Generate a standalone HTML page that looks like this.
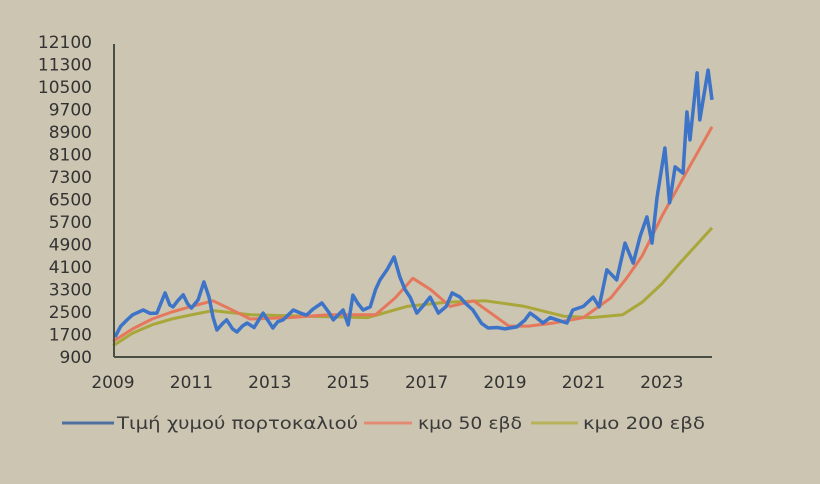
<!DOCTYPE html>
<html><head><meta charset="utf-8">
<style>
html,body{margin:0;padding:0;background:#ccc5b2;}
svg{display:block;font-family:"DejaVu Sans","Liberation Sans",sans-serif;}
</style></head>
<body>
<svg id="chart" width="820" height="484" viewBox="0 0 820 484">
<rect x="0" y="0" width="820" height="484" fill="#ccc5b2"/>
<g id="yticks"></g>
<g id="xticks"></g>
<g id="series"></g>
<line x1="114" y1="44" x2="114" y2="357" stroke="#4a4f45" stroke-width="2"/>
<line x1="114" y1="357" x2="712" y2="357" stroke="#4a4f45" stroke-width="2"/>
<g font-size="17" fill="#3a3a3a">
<g>
<line x1="62" y1="423" x2="114" y2="423" stroke="#4f6f9e" stroke-width="3"/>
<text x="117" y="429" textLength="241" lengthAdjust="spacingAndGlyphs">Τιμή χυμού πορτοκαλιού</text></g>
<g>
<line x1="364" y1="423" x2="412" y2="423" stroke="#e28a73" stroke-width="3"/>
<text x="418" y="429" textLength="104" lengthAdjust="spacingAndGlyphs">κμο 50 εβδ</text></g>
<g>
<line x1="531" y1="423" x2="578" y2="423" stroke="#b8b25a" stroke-width="3"/>
<text x="583" y="429" textLength="122" lengthAdjust="spacingAndGlyphs">κμο 200 εβδ</text></g>
</g>
</svg>
<script>
const yTicks=[900,1700,2500,3300,4100,4900,5700,6500,7300,8100,8900,9700,10500,11300,12100];
const xTicks=[2009,2011,2013,2015,2017,2019,2021,2023];
const priceYears=[2009.05,2009.2,2009.36,2009.5,2009.77,2009.95,2010.12,2010.33,2010.45,2010.53,2010.65,2010.79,2010.9,2011.0,2011.17,2011.32,2011.45,2011.55,2011.65,2011.8,2011.9,2012.05,2012.16,2012.3,2012.42,2012.6,2012.83,2013.0,2013.08,2013.2,2013.34,2013.6,2013.8,2013.94,2014.1,2014.33,2014.5,2014.62,2014.87,2015.0,2015.12,2015.25,2015.38,2015.56,2015.7,2015.81,2015.99,2016.17,2016.32,2016.45,2016.58,2016.75,2016.9,2017.09,2017.3,2017.5,2017.65,2017.85,2018.0,2018.18,2018.4,2018.57,2018.8,2019.0,2019.3,2019.5,2019.64,2019.8,2019.97,2020.15,2020.33,2020.58,2020.73,2021.0,2021.25,2021.4,2021.6,2021.85,2022.06,2022.27,2022.45,2022.62,2022.75,2022.88,2023.08,2023.2,2023.34,2023.54,2023.64,2023.72,2023.9,2023.97,2024.18,2024.28];
const priceValues=[1610,2000,2220,2400,2570,2450,2460,3180,2750,2680,2900,3110,2800,2640,2930,3570,3030,2320,1860,2100,2220,1900,1790,2000,2110,1950,2460,2100,1930,2150,2220,2570,2450,2390,2600,2820,2500,2220,2570,2040,3100,2800,2570,2680,3300,3640,4000,4460,3740,3300,3030,2460,2700,3030,2460,2700,3180,3030,2800,2570,2100,1930,1950,1900,1970,2200,2460,2300,2110,2300,2220,2110,2570,2700,3030,2680,4000,3640,4950,4240,5200,5880,4950,6590,8330,6380,7660,7440,9610,8620,11000,9330,11100,10040];
const ma50Years=[2009.0,2009.5,2010.0,2010.5,2011.0,2011.55,2012.0,2012.5,2013.5,2014.5,2015.7,2016.2,2016.65,2017.1,2017.6,2018.2,2018.7,2019.1,2019.6,2020.2,2021.0,2021.7,2022.1,2022.5,2023.0,2023.6,2024.28];
const ma50Values=[1450,1900,2250,2500,2700,2900,2600,2250,2300,2400,2400,3000,3700,3300,2700,2900,2400,2000,2000,2100,2300,3000,3700,4500,5900,7400,9080];
const ma200Years=[2009.0,2009.5,2010.0,2010.5,2011.0,2011.55,2012.5,2014.0,2015.5,2016.5,2017.5,2018.5,2019.5,2020.5,2021.2,2022.0,2022.5,2023.0,2023.5,2024.28];
const ma200Values=[1300,1750,2050,2250,2400,2550,2400,2350,2300,2700,2850,2900,2700,2350,2300,2400,2850,3500,4300,5490];
const X=y=>113+(y-2009)*39.2;
const Y=v=>357-(v-900)*315/11200;
const NS="http://www.w3.org/2000/svg";
const yt=document.getElementById('yticks');
yTicks.forEach(v=>{const t=document.createElementNS(NS,'text');


t.setAttribute('x',92);t.setAttribute('y',Y(v)+6);t.setAttribute('text-anchor','end');
t.setAttribute('font-size','17');t.setAttribute('fill','#333');
t.textContent=v;yt.appendChild(t);});
const xt=document.getElementById('xticks');
xTicks.forEach(v=>{const t=document.createElementNS(NS,'text');


t.setAttribute('x',X(v));t.setAttribute('y',388);t.setAttribute('text-anchor','middle');
t.setAttribute('font-size','17');t.setAttribute('fill','#333');
t.textContent=v;xt.appendChild(t);});
const sg=document.getElementById('series');
function line(xs,vs,color,w,name){const p=document.createElementNS(NS,'polyline');


p.setAttribute('points',xs.map((x,i)=>X(x).toFixed(1)+','+Y(vs[i]).toFixed(1)).join(' '));
p.setAttribute('fill','none');p.setAttribute('stroke',color);p.setAttribute('stroke-width',w);
p.setAttribute('stroke-linejoin','round');sg.appendChild(p);}
line(ma200Years,ma200Values,'#a9a63a',3,'ma200-line');
line(ma50Years,ma50Values,'#e5785c',3,'ma50-line');
line(priceYears,priceValues,'#3d74c8',3.5,'price-line');
</script>
</body></html>
